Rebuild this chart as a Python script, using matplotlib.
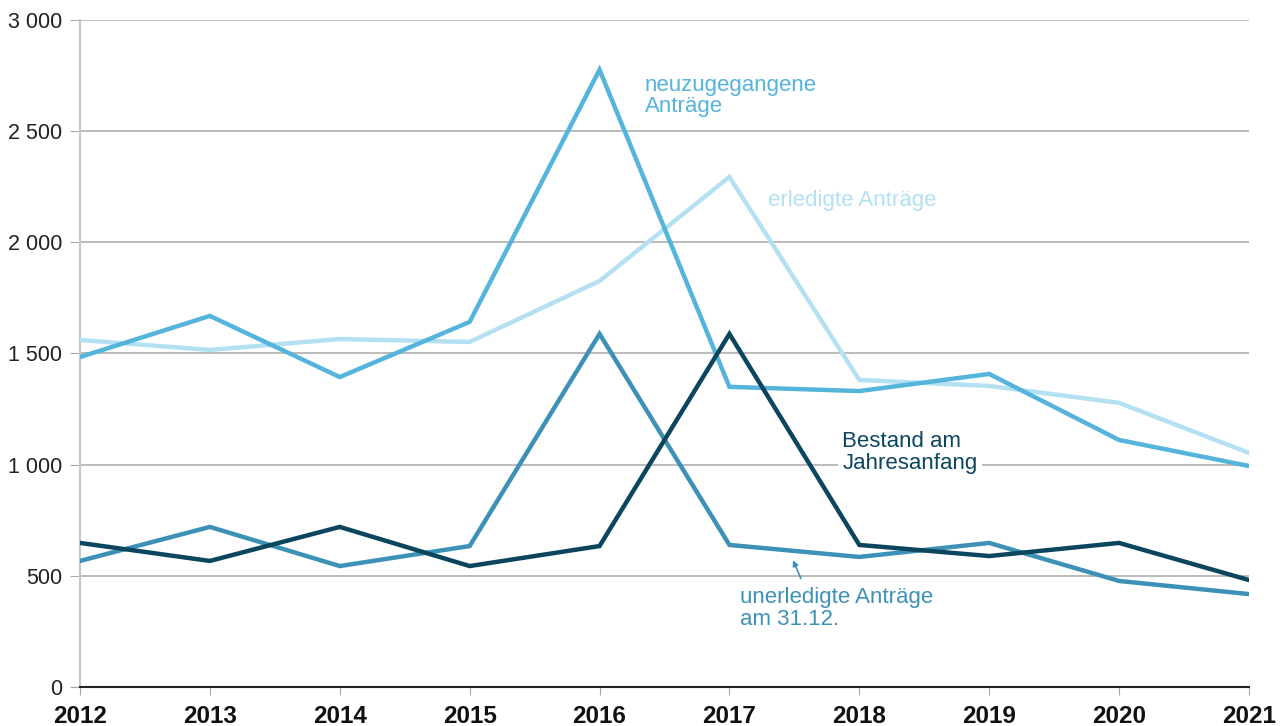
import matplotlib
matplotlib.use("Agg")
import matplotlib.pyplot as plt
from matplotlib.ticker import FuncFormatter

plt.rcParams['font.family'] = ['Liberation Sans', 'DejaVu Sans']

# Daten
years = [2012, 2013, 2014, 2015, 2016, 2017, 2018, 2019, 2020, 2021]
neuzugegangen = [1484, 1669, 1394, 1642, 2776, 1350, 1331, 1408, 1111, 994]
erledigt = [1561, 1516, 1565, 1552, 1826, 2294, 1381, 1354, 1278, 1053]
unerledigt = [567, 720, 544, 634, 1588, 639, 585, 648, 477, 418]
bestand = [648, 567, 720, 544, 634, 1588, 639, 589, 648, 481]

c_neu = '#55b4dc'
c_erl = '#b4e1f2'
c_unerl = '#3e91b6'
c_best = '#0b465e'

fs = 16

fig = plt.figure(figsize=(12.86, 7.26), dpi=100)
ax = fig.add_axes([0.0622, 0.0537, 0.9090, 0.9188])

ax.plot(years, erledigt, color=c_erl, lw=3.2, solid_joinstyle='miter', zorder=3)
ax.plot(years, neuzugegangen, color=c_neu, lw=3.2, solid_joinstyle='miter', zorder=4)
ax.plot(years, unerledigt, color=c_unerl, lw=3.2, solid_joinstyle='miter', zorder=3)
ax.plot(years, bestand, color=c_best, lw=3.2, solid_joinstyle='miter', zorder=4)

ax.set_xlim(2012, 2021)
ax.set_ylim(0, 3000)
ax.set_yticks(range(0, 3001, 500))
ax.set_xticks(years)
ax.yaxis.set_major_formatter(FuncFormatter(lambda v, p: f"{int(v):,}".replace(',', ' ')))
ax.grid(axis='y', color='#a8a8a8', lw=1.1, zorder=0)
ax.set_axisbelow(True)

for s in ['top', 'right']:
    ax.spines[s].set_visible(False)
ax.spines['left'].set_color('#c8c8c8')
ax.spines['left'].set_linewidth(1.5)
ax.spines['bottom'].set_color('#222222')
ax.spines['bottom'].set_linewidth(1.5)
ax.spines['bottom'].set_zorder(5)

ax.tick_params(axis='y', length=7, color='#a8a8a8', labelsize=15.5, labelcolor='#222222', pad=6)
ax.tick_params(axis='x', length=6, color='#a8a8a8', labelsize=17.5, labelcolor='#111111', pad=7)
for lbl in ax.get_xticklabels():
    lbl.set_fontweight('bold')

ax.text(2016.35, 2752, 'neuzugegangene\nAnträge', color=c_neu, fontsize=fs,
        va='top', ha='left', linespacing=1.02)
ax.text(2017.30, 2190, 'erledigte Anträge', color=c_erl, fontsize=fs,
        va='center', ha='left')
ax.text(2017.87, 1056, 'Bestand am\nJahresanfang', color=c_best, fontsize=fs,
        va='center', ha='left', linespacing=1.06,
        bbox=dict(facecolor='white', edgecolor='none', pad=3))
ax.text(2017.08, 448, 'unerledigte Anträge\nam 31.12.', color=c_unerl, fontsize=fs,
        va='top', ha='left', linespacing=1.02)
ax.annotate('', xy=(2017.49, 570), xytext=(2017.55, 488),
            arrowprops=dict(arrowstyle='-|>', color=c_unerl, lw=1.2,
                            mutation_scale=8, shrinkA=0, shrinkB=0))

fig.savefig('out.png', dpi=100)
